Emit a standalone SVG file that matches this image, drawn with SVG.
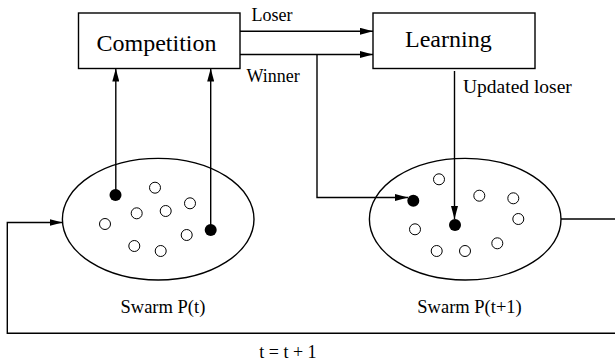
<svg xmlns="http://www.w3.org/2000/svg" width="615" height="363" viewBox="0 0 615 363">
<style>
.box{fill:#fff;stroke:#000;stroke-width:1.4}
.ln{fill:none;stroke:#000;stroke-width:1.4}
.hol{fill:#fff;stroke:#000;stroke-width:1}
.blk{fill:#000}
text{font-family:"Liberation Serif","Times New Roman",serif;fill:#000}
.big{font-size:24px}
.sm{font-size:18px}
.sw{font-size:18.5px}
</style>
<defs>
<marker id="ah" markerUnits="userSpaceOnUse" markerWidth="13" markerHeight="7" refX="13" refY="3.5" orient="auto">
<path d="M0,0 L13,3.5 L0,7 z" fill="#000"/>
</marker>
</defs>
<g id="competition">
<rect class="box" x="78.5" y="13" width="161.5" height="55.5"/>
<text class="big" x="96.5" y="50.5">Competition</text>
</g>
<g id="learning">
<rect class="box" x="373" y="13" width="162" height="55.5"/>
<text class="big" x="405" y="46.5">Learning</text>
</g>
<g id="swarm-t">
<ellipse class="ln" cx="158.2" cy="219.2" rx="95.8" ry="60.8"/>
<circle class="hol" cx="155" cy="187.7" r="5.5"/>
<circle class="hol" cx="190" cy="203.3" r="5.5"/>
<circle class="hol" cx="136.7" cy="213.3" r="5.5"/>
<circle class="hol" cx="165.7" cy="211" r="5.5"/>
<circle class="hol" cx="105" cy="224" r="5.5"/>
<circle class="hol" cx="186.7" cy="235" r="5.5"/>
<circle class="hol" cx="134.3" cy="246" r="5.5"/>
<circle class="hol" cx="160.7" cy="251" r="5.5"/>
<circle class="blk" cx="115.5" cy="195" r="6"/>
<circle class="blk" cx="210.7" cy="230" r="6"/>
<text class="sw" x="120.5" y="312.5">Swarm P(t)</text>
</g>
<g id="swarm-t1">
<ellipse class="ln" cx="465.2" cy="219.2" rx="95.8" ry="60.8"/>
<circle class="hol" cx="439" cy="179.3" r="5.5"/>
<circle class="hol" cx="479.3" cy="195.7" r="5.5"/>
<circle class="hol" cx="513.3" cy="198.3" r="5.5"/>
<circle class="hol" cx="518.3" cy="219" r="5.5"/>
<circle class="hol" cx="415" cy="229.3" r="5.5"/>
<circle class="hol" cx="436.7" cy="251" r="5.5"/>
<circle class="hol" cx="465" cy="251" r="5.5"/>
<circle class="hol" cx="497.3" cy="243.3" r="5.5"/>
<circle class="blk" cx="413.3" cy="200.7" r="6"/>
<circle class="blk" cx="455" cy="225" r="6"/>
<text class="sw" x="417.3" y="312.5">Swarm P(t+1)</text>
</g>
<g id="connectors">
<line class="ln" x1="240" y1="31.3" x2="373" y2="31.3" marker-end="url(#ah)"/>
<line class="ln" x1="240" y1="54.5" x2="373" y2="54.5" marker-end="url(#ah)"/>
<polyline class="ln" points="317,54.5 317,197.5 408,197.5" marker-end="url(#ah)"/>
<line class="ln" x1="454.5" y1="71" x2="454.5" y2="219" marker-end="url(#ah)"/>
<line class="ln" x1="115.8" y1="195" x2="115.8" y2="68.5" marker-end="url(#ah)"/>
<line class="ln" x1="210.7" y1="230" x2="210.7" y2="68.5" marker-end="url(#ah)"/>
<line class="ln" x1="561" y1="219" x2="615" y2="219"/>
<polyline class="ln" points="615,333.3 7.3,333.3 7.3,222.5 62.5,222.5" marker-end="url(#ah)"/>
<text class="sm" x="251.5" y="20.5">Loser</text>
<text class="sm" x="246.5" y="81.5">Winner</text>
<text class="sm" x="463" y="93" style="font-size:19.5px">Updated loser</text>
<text class="sm" x="259.3" y="358">t = t + 1</text>
</g>
</svg>
